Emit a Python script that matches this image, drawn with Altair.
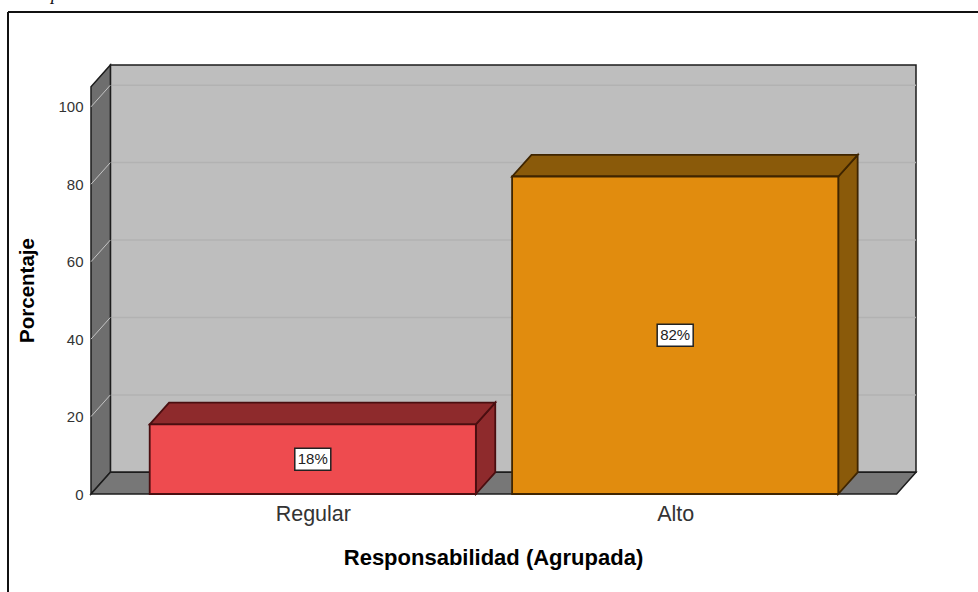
import altair as alt
import pandas as pd

categories = ["Regular", "Alto"]
values = [18, 82]
bar_fill = ["#EE4B4F", "#E18C0E"]
bar_shade = ["#8E2A2C", "#8A5A0A"]
bar_edge = ["#4A0E10", "#3F2500"]
tick_values = [0, 20, 40, 60, 80, 100]
x_title = "Responsabilidad (Agrupada)"
y_title = "Porcentaje"

# Extents of the simulated 3D box, in axis units
box_left, box_right = -0.612, 1.611
box_top = 105.2
depth_x, depth_y = 0.0535, 5.6
half_bar = 0.45
edge = "#1c1c1c"

plot_w, plot_h = 825, 429
x_scale = alt.Scale(domain=[box_left, box_right + depth_x], range=[0, plot_w], nice=False, zero=False)
y_scale = alt.Scale(domain=[0, box_top + depth_y], range=[plot_h, 0], nice=False, zero=False)
X = alt.X("x:Q", scale=x_scale, title=None, axis=None)
Y = alt.Y("y:Q", scale=y_scale, title=None, axis=None)


def vertical_face(x0, x1, y0, y1, slope, fill, stroke, width=1.8):
    """Face whose left and right sides are vertical; its floor rises by slope over x0..x1."""
    df = pd.DataFrame({"x": [x0, x1], "y": [y0, y0 + slope], "y2": [y1, y1 + slope]})
    return alt.Chart(df).mark_area(fill=fill, stroke=stroke, strokeWidth=width, opacity=1).encode(
        x=X, y=Y, y2="y2:Q"
    )


def horizontal_face(x0, x1, y0, y1, fill, stroke, width=1.8):
    """Face with horizontal top and bottom edges, sheared back by the box depth."""
    df = pd.DataFrame({"y": [y0, y1], "x": [x0, x0 + depth_x], "x2": [x1, x1 + depth_x]})
    return alt.Chart(df).mark_area(
        orient="horizontal", fill=fill, stroke=stroke, strokeWidth=width, opacity=1
    ).encode(x=X, x2="x2:Q", y=Y)


# Back wall
back = vertical_face(box_left + depth_x, box_right + depth_x, depth_y, box_top + depth_y, 0, "#BEBEBE", edge, 1.5)

# Side wall and floor
side = vertical_face(box_left, box_left + depth_x, 0, box_top, depth_y, "#6E6E6E", edge, 1.5)
floor = horizontal_face(box_left, box_right, 0, depth_y, "#777777", edge, 1.5)

# Tick axis carrying the labels and the titles
axes = alt.Chart(pd.DataFrame({"x": [0, 1], "y": [0, 100]})).mark_point(opacity=0).encode(
    x=alt.X(
        "x:Q",
        scale=x_scale,
        title=x_title,
        axis=alt.Axis(
            values=[0, 1],
            labelExpr="datum.value < 0.5 ? '%s' : '%s'" % tuple(categories),
            grid=False,
            domain=False,
            ticks=False,
            labelFont="Liberation Sans",
            labelFontSize=21.5,
            labelColor="#333333",
            labelPadding=9,
            titleFont="Liberation Sans",
            titleFontSize=22,
            titleFontWeight="bold",
            titleColor="#000000",
            titleBaseline="middle",
            titleAlign="center",
            titleX=402,
            titleY=63,
        ),
    ),
    y=alt.Y(
        "y:Q",
        scale=y_scale,
        title=y_title,
        axis=alt.Axis(
            values=tick_values,
            grid=False,
            domain=False,
            ticks=False,
            labelFont="Liberation Sans",
            labelFontSize=15,
            labelColor="#333333",
            labelPadding=8,
            titleFont="Liberation Sans",
            titleFontSize=20.5,
            titleFontWeight="bold",
            titleColor="#000000",
            titleBaseline="middle",
            titleAlign="center",
            titleX=-64,
            titleY=225,
        ),
    ),
)

# Gridlines along the back wall and down the side wall
grid_back = alt.Chart(pd.DataFrame({
    "y": [v + depth_y for v in tick_values[1:]],
    "x": [box_left + depth_x] * 5,
    "x2": [box_right + depth_x] * 5,
})).mark_rule(color="#B2B2B2", strokeWidth=1.5).encode(x=X, x2="x2:Q", y=Y)

grid_side = alt.Chart(pd.DataFrame(
    [{"tick": v, "x": box_left + d * depth_x, "y": v + d * depth_y} for v in tick_values[1:] for d in (0, 1)]
)).mark_line(color="#C4C4C4", strokeWidth=1).encode(x=X, y=Y, detail="tick:N")

layers = [axes, back, grid_back, side, grid_side, floor]

# Bars as front, top and side faces
for i, value in enumerate(values):
    layers.append(vertical_face(i + half_bar, i + half_bar + depth_x, 0, value, depth_y, bar_shade[i], bar_edge[i]))
    layers.append(horizontal_face(i - half_bar, i + half_bar, value, value + depth_y, bar_shade[i], bar_edge[i]))
    front = pd.DataFrame({"x": [i - half_bar], "x2": [i + half_bar], "y": [0], "y2": [value]})
    layers.append(
        alt.Chart(front).mark_rect(fill=bar_fill[i], stroke=bar_edge[i], strokeWidth=1.8).encode(
            x=X, x2="x2:Q", y=Y, y2="y2:Q"
        )
    )

# Value labels in white boxes at mid height of each bar
labels = pd.DataFrame({
    "x": list(range(len(values))),
    "y": [v / 2 for v in values],
    "text": [f"{v}%" for v in values],
})
layers.append(
    alt.Chart(labels).mark_rect(width=36, height=22, fill="white", stroke="#222222", strokeWidth=1.5).encode(x=X, y=Y)
)
layers.append(
    alt.Chart(labels).mark_text(font="Liberation Sans", fontSize=15, color="#222222").encode(x=X, y=Y, text="text:N")
)

# Outer frame of the figure and the line of text cut off above it
layers.append(alt.Chart(pd.DataFrame({"a": [0]})).mark_rule(color="#111111", strokeWidth=2).encode(
    x=alt.value(-83), y=alt.value(-53), y2=alt.value(540)))
layers.append(alt.Chart(pd.DataFrame({"a": [0]})).mark_rule(color="#111111", strokeWidth=2).encode(
    x=alt.value(-83), x2=alt.value(900), y=alt.value(-53)))
layers.append(alt.Chart(pd.DataFrame({"t": ["p"]})).mark_text(
    font="Liberation Serif", fontSize=18, fontStyle="italic", align="left", baseline="alphabetic", color="#111111"
).encode(x=alt.value(-40), y=alt.value(-65.5), text="t:N"))

chart = alt.layer(*layers).resolve_axis(x="independent", y="independent").properties(
    width=plot_w,
    height=plot_h,
    padding={"left": 91, "top": 65, "right": 62, "bottom": 98},
    autosize=alt.AutoSizeParams(type="none"),
    background="white",
).configure_view(stroke=None)

chart.save("out.html", embed_options={"renderer": "svg", "actions": False})
